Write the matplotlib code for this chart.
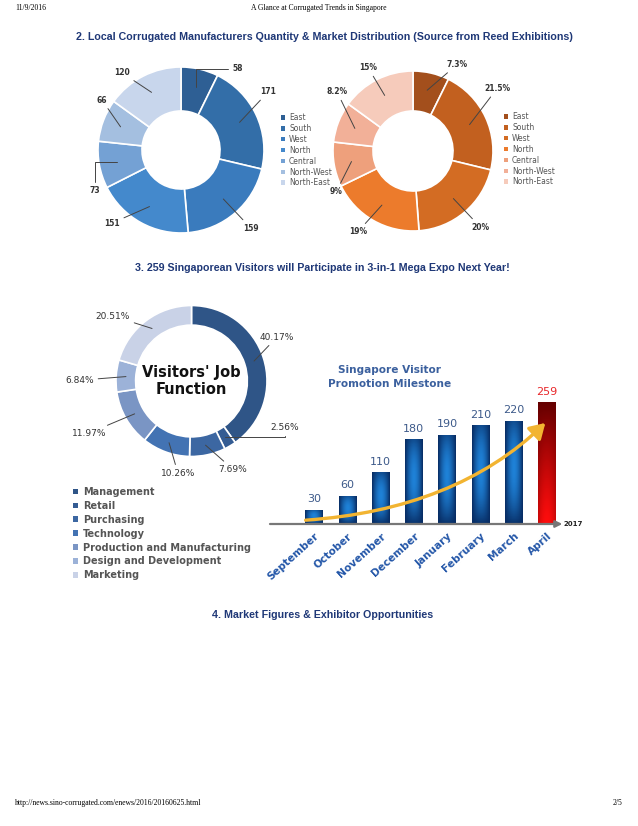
import numpy as np
import matplotlib.pyplot as plt
from matplotlib.colors import to_rgb
from matplotlib.patches import Patch

#%% Data

regions = ['East', 'South', 'West', 'North', 'Central', 'North-West', 'North-East']
maker_counts = [58, 171, 159, 151, 73, 66, 120]
market_share = [7.3, 21.5, 20, 19, 9, 8.2, 15]
share_labels = ['7.3%', '21.5%', '20%', '19%', '9%', '8.2%', '15%']

jobs = ['Management', 'Retail', 'Purchasing', 'Technology',
        'Production and Manufacturing', 'Design and Development', 'Marketing']
job_share = [40.17, 2.56, 7.69, 10.26, 11.97, 6.84, 20.51]

months = ['September', 'October', 'November', 'December',
          'January', 'February', 'March', 'April']
visitors = [30, 60, 110, 180, 190, 210, 220, 259]

#%% Styles

blues = ['#2e5f94', '#336ea8', '#3a7bbd', '#4489cc', '#74a1d4', '#a4bfe0', '#c8d6ec']
oranges = ['#a34f1c', '#c2601f', '#d36c23', '#ec7b2c', '#eea07c', '#f2b098', '#f6cbbb']
job_blues = ['#2f5587', '#345c93', '#3c67a2', '#4373b3', '#7a95c4', '#9cb2d8', '#c9d2e7']
title_col = '#1f3877'

W, H = 638, 826
fig = plt.figure(figsize=(W / 100, H / 100), dpi=100)
fig.patch.set_facecolor('white')


def ftext(x, y, s, **kw):
    # place text with pixel coords (origin top-left)
    return fig.text(x / W, 1 - y / H, s, **kw)


def donut_axes(cx, cy, r, half):
    ax = fig.add_axes([(cx - r * half) / W, 1 - (cy + r * half) / H,
                       2 * r * half / W, 2 * r * half / H])
    return ax


def label_wedges(ax, wedges, labels, text_pos, r_start, elbows, **kw):
    for w, lab, pos, elb in zip(wedges, labels, text_pos, elbows):
        mid = np.deg2rad((w.theta1 + w.theta2) / 2)
        xy = (r_start * np.cos(mid), r_start * np.sin(mid))
        cs = 'arc3' if elb is None else 'angle,angleA=%d,angleB=%d,rad=0' % elb
        ax.annotate(lab, xy=xy, xytext=pos, ha='center', va='center',
                    arrowprops=dict(arrowstyle='-', color='#444', lw=0.7,
                                    shrinkA=1, shrinkB=0, connectionstyle=cs),
                    **kw)


def legend_at(colors, labels, x, y, **kw):
    handles = [Patch(facecolor=c, edgecolor='none') for c in colors]
    fig.legend(handles, labels, loc='upper left', bbox_to_anchor=(x / W, 1 - y / H),
               frameon=False, borderpad=0, borderaxespad=0, **kw)


#%% Header / footer / section titles

ftext(15, 8, '11/9/2016', fontsize=5.5, family='Liberation Serif', va='center')
ftext(319, 8, 'A Glance at Corrugated Trends in Singapore', fontsize=5.5,
      family='Liberation Serif', ha='center', va='center')
ftext(15, 803, 'http://news.sino-corrugated.com/enews/2016/20160625.html', fontsize=5.5,
      family='Liberation Serif', va='center')
ftext(622, 803, '2/5', fontsize=5.5, family='Liberation Serif', ha='right', va='center')

tkw = dict(fontsize=7.7, fontweight='bold', color=title_col, ha='center', va='center',
           family='Liberation Sans')
ftext(324, 37, '2. Local Corrugated Manufacturers Quantity & Market Distribution '
               '(Source from Reed Exhibitions)', **tkw)
ftext(322, 268, '3. 259 Singaporean Visitors will Participate in 3-in-1 Mega Expo Next Year!', **tkw)
ftext(323, 615, '4. Market Figures & Exhibitor Opportunities', **tkw)

#%% Donut 1 - manufacturers quantity

ax1 = donut_axes(181, 150, 83, 1.45)
w1, _ = ax1.pie(maker_counts, colors=blues, startangle=90, counterclock=False, radius=1,
                wedgeprops=dict(width=0.53, edgecolor='white', linewidth=1.2))
pos1 = [(0.68, 0.98), (1.05, 0.70), (0.84, -0.94), (-0.83, -0.88),
        (-1.04, -0.49), (-0.95, 0.60), (-0.71, 0.93)]
elb1 = [(0, 90), None, None, None, (90, 0), None, None]
label_wedges(ax1, w1, [str(v) for v in maker_counts], pos1, 0.78, elb1,
             fontsize=5.5, fontweight='bold', color='#333')
ax1.set_xlim(-1.45, 1.45)
ax1.set_ylim(-1.45, 1.45)
ax1.axis('off')
legend_at(blues, regions, 281, 113, fontsize=5.5, labelcolor='#555', handlelength=0.55,
          handleheight=0.55, handletextpad=0.5, labelspacing=0.25)

#%% Donut 2 - market distribution

ax2 = donut_axes(413, 151, 80, 1.45)
w2, _ = ax2.pie(market_share, colors=oranges, startangle=90, counterclock=False, radius=1,
                wedgeprops=dict(width=0.5, edgecolor='white', linewidth=1.2))
pos2 = [(0.55, 1.08), (1.05, 0.78), (0.84, -0.95), (-0.69, -1.01),
        (-0.96, -0.51), (-0.95, 0.74), (-0.56, 1.04)]
label_wedges(ax2, w2, share_labels, pos2, 0.78, [None] * 7,
             fontsize=5.5, fontweight='bold', color='#333')
ax2.set_xlim(-1.45, 1.45)
ax2.set_ylim(-1.45, 1.45)
ax2.axis('off')
legend_at(oranges, regions, 504, 112, fontsize=5.5, labelcolor='#555', handlelength=0.55,
          handleheight=0.55, handletextpad=0.5, labelspacing=0.25)

#%% Donut 3 - visitors' job function

ax3 = donut_axes(191.5, 381, 75.5, 1.7)
w3, _ = ax3.pie(job_share, colors=job_blues, startangle=90, counterclock=False, radius=1,
                wedgeprops=dict(width=0.26, edgecolor='white', linewidth=1.2))
pos3 = [(1.13, 0.58), (1.24, -0.62), (0.55, -1.17), (-0.18, -1.22),
        (-1.36, -0.69), (-1.48, 0.01), (-1.04, 0.86)]
elb3 = [None, (90, 0), None, None, None, None, None]
label_wedges(ax3, w3, ['%.2f%%' % v for v in job_share], pos3, 0.87, elb3,
             fontsize=6.5, color='#333')
ax3.text(0, 0, "Visitors' Job\nFunction", ha='center', va='center', fontsize=10.5,
         fontweight='bold', color='#111', linespacing=1.2)
ax3.set_xlim(-1.7, 1.7)
ax3.set_ylim(-1.7, 1.7)
ax3.axis('off')
legend_at(job_blues, jobs, 73, 487, prop=dict(size=7, weight='bold'), labelcolor='#555',
          handlelength=0.55, handleheight=0.55, handletextpad=0.5, labelspacing=0.4)

#%% Bar chart - promotion milestone

axb = fig.add_axes([270 / W, 1 - 524 / H, 288 / W, 164 / H])
x = np.arange(len(visitors))
bars = axb.bar(x, visitors, width=0.52, color='none', zorder=2)


def grad_img(kind, n=64):
    u = np.linspace(0, 1, n)[None, :]
    v = np.linspace(0, 1, n)[:, None]
    if kind == 'blue':
        dark, bright = np.array(to_rgb('#072b62')), np.array(to_rgb('#1f82d8'))
        t = (1 - np.abs(2 * u - 1) ** 1.8) * (1 - 0.75 * np.abs(2 * v - 1.1) ** 2)
    else:
        dark, bright = np.array(to_rgb('#650000')), np.array(to_rgb('#ff0d0d'))
        t = (1 - v ** 1.2) * (1 - 0.35 * np.abs(2 * u - 1) ** 2)
    t = np.clip(t, 0, 1)[..., None]
    return dark + (bright - dark) * t


for i, rect in enumerate(bars):
    kind = 'red' if i == len(bars) - 1 else 'blue'
    x0, y0 = rect.get_x(), rect.get_y()
    im = axb.imshow(grad_img(kind), extent=[x0, x0 + rect.get_width(), y0, y0 + rect.get_height()],
                    origin='lower', aspect='auto', zorder=2)
    im.set_clip_path(rect)
    axb.annotate(str(visitors[i]), (i, visitors[i]), xytext=(0, 4), textcoords='offset points',
                 ha='center', va='bottom', fontsize=8,
                 color='#e8272a' if kind == 'red' else '#3d5a8a')

axb.set_xlim(-1.32, 7.33)
axb.set_ylim(0, 349)
for s in axb.spines.values():
    s.set_visible(False)
axb.set_yticks([])
axb.set_xticks(x)
axb.set_xticklabels(months, rotation=42, ha='right', va='top', rotation_mode='anchor',
                    fontsize=7.6, fontweight='bold', color='#2356a8')
axb.tick_params(axis='x', length=0, pad=5)
axb.patch.set_alpha(0)

# baseline with small arrow and year
axb.annotate('', xy=(1.015, 0), xytext=(0, 0), xycoords='axes fraction',
             arrowprops=dict(arrowstyle='-|>,head_length=0.4,head_width=0.2',
                             color='#777', lw=1.6, shrinkA=0, shrinkB=0), zorder=3)
axb.text(1.02, 0, '2017', transform=axb.transAxes, fontsize=5, fontweight='bold',
         va='center', ha='left', color='#222')

# growth arrow
axb.annotate('', xy=(x[-1] - 0.05, visitors[-1] * 0.83), xytext=(x[0] - 0.25, visitors[0] * 0.27),
             arrowprops=dict(arrowstyle='-|>,head_length=0.9,head_width=0.55', color='#f2b431',
                             lw=2.4, connectionstyle='angle3,angleA=4,angleB=44',
                             shrinkA=0, shrinkB=0), zorder=4)

ftext(390, 377, 'Singapore Visitor\nPromotion Milestone', fontsize=7.6, fontweight='bold',
      color='#3b609e', ha='center', va='center', linespacing=1.45)

fig.savefig('out.png', dpi=100)
